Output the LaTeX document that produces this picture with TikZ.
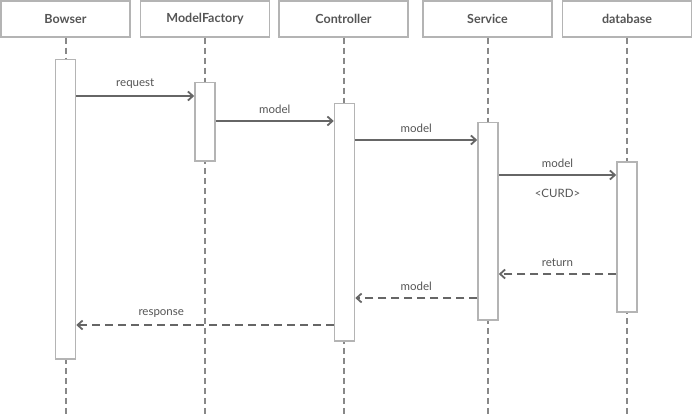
\documentclass[tikz,border=0pt]{standalone}
\usepackage{fontspec}
\setmainfont{Lato}
\usetikzlibrary{arrows.meta,positioning,calc}
\definecolor{boxColor}{HTML}{B4B4B4}
\definecolor{lineColor}{HTML}{666666}
\definecolor{lifeColor}{HTML}{888888}
\definecolor{textColor}{HTML}{555555}
\tikzset{
	head/.style={draw=boxColor, line width=1.5pt, minimum width=129pt, minimum height=36pt,
		font=\fontsize{12.5}{14}\selectfont\bfseries, text=textColor},
	act/.style={draw=boxColor, fill=white, line width=1.5pt, minimum width=20pt, anchor=north},
	life/.style={lifeColor, line width=2pt, dash pattern=on 6pt off 4pt},
	msg/.style={lineColor, line width=1.8pt, -{Straight Barb[length=5pt,width=9pt]}},
	ret/.style={msg, dash pattern=on 8pt off 5pt},
	lab/.style={text=textColor, font=\fontsize{11.5}{13}\selectfont, inner sep=0}
}

\begin{document}
\begin{tikzpicture}[x=1pt, y=-1pt]
	\useasboundingbox (0,0) rectangle (693,417);
	\node[head] (bowser) at (65.5,19) {Bowser};
	\node[head] (factory) at (205,19) {ModelFactory};
	\node[head] (ctrl) at (343.5,19) {Controller};
	\node[head] (service) at (487.5,19) {Service};
	\node[head] (db) at (627,19) {database};
	% lifelines
	\draw[life] (bowser.south) -- (bowser.south |- 0,417);
	\draw[life] (factory.south) -- (factory.south |- 0,417);
	\draw[life] (ctrl.south) -- (ctrl.south |- 0,417);
	\draw[life] (service.south) -- (service.south |- 0,417);
	\draw[life] (db.south) -- (db.south |- 0,417);
	% activations
	\node[act, minimum height=299pt] (bowserAct) at (65.5,59) {};
	\node[act, minimum height=78pt] (factoryAct) at (205,82) {};
	\node[act, minimum height=237pt] (ctrlAct) at (344.5,103) {};
	\node[act, minimum height=197pt] (serviceAct) at (488,122) {};
	\node[act, minimum height=150pt] (dbAct) at (627,161) {};
	\coordinate (m1) at (0,96);
	\coordinate (m2) at (0,121);
	\coordinate (m3) at (0,140);
	\coordinate (m4) at (0,175);
	\coordinate (m5) at (0,274);
	\coordinate (m6) at (0,298);
	\coordinate (m7) at (0,325);
	\draw[msg] (bowserAct.east |- m1) -- node[lab, above=7pt] {request} (factoryAct.west |- m1);
	\draw[msg] (factoryAct.east |- m2) -- node[lab, above=7pt] {model} (ctrlAct.west |- m2);
	\draw[msg] (ctrlAct.east |- m3) -- node[lab, above=7pt] {model} (serviceAct.west |- m3);
	\draw[msg] (serviceAct.east |- m4) -- node[lab, above=7pt] {model}
		node[lab, below=13pt] {<CURD>} (dbAct.west |- m4);
	\draw[ret] (dbAct.west |- m5) -- node[lab, above=7pt] {return} (serviceAct.east |- m5);
	\draw[ret] (serviceAct.west |- m6) -- node[lab, above=7pt] {model} (ctrlAct.east |- m6);
	\draw[ret] (ctrlAct.west |- m7) -- node[lab, above=7pt, pos=0.67] {response} (bowserAct.east |- m7);
\end{tikzpicture}
\end{document}
